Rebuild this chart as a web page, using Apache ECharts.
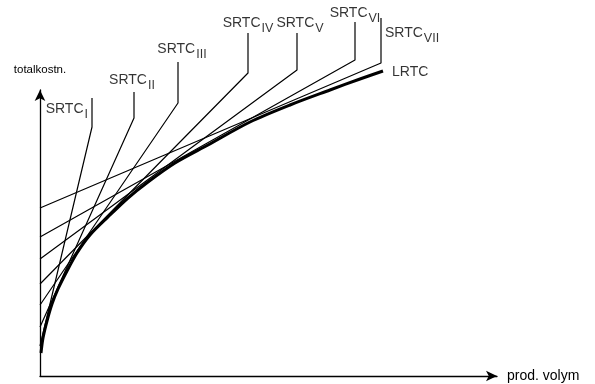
<!DOCTYPE html>
<html><head><meta charset="utf-8">
<script src="https://cdn.jsdelivr.net/npm/echarts@6/dist/echarts.min.js"></script>
<style>html,body{margin:0;padding:0;background:#fff}#c{width:595px;height:384px}</style>
</head><body><div id="c"></div>
<script>
// values (arbitrary units: x = production volume, y = total cost)
const srtcNames = ['I', 'II', 'III', 'IV', 'V', 'VI', 'VII'];
const srtcIntercept = [30, 49, 71, 92, 117, 139, 168];
const srtcKinkX = [52, 94, 138, 208, 257, 315, 341];
const srtcKinkY = [249, 258, 273, 303, 306, 316, 313];
const srtcTopY = [278, 284, 314, 343, 343, 354, 358];
const lrtcX = [1, 3, 7, 12, 18, 27, 37, 50, 68, 88, 108, 135, 168, 210, 250, 290, 320, 343];
const lrtcY = [23, 38, 55, 72, 87, 105, 123, 141, 159, 178, 194, 213, 231, 254, 271, 286, 297, 305];
const xName = 'prod. volym';
const yName = 'totalkostn.';
const lrtcName = 'LRTC';

// label placement styles (not data)
const labelStyle = [
  {align: 'right', verticalAlign: 'top', offset: [-4, 4]},
  {align: 'center', verticalAlign: 'bottom', offset: [-2, -4]},
  {align: 'center', verticalAlign: 'bottom', offset: [4, -5]},
  {align: 'center', verticalAlign: 'bottom', offset: [0, -2]},
  {align: 'center', verticalAlign: 'bottom', offset: [3, -2]},
  {align: 'center', verticalAlign: 'bottom', offset: [0, -1]},
  {align: 'left', verticalAlign: 'top', offset: [4, 8]}
];
const INK = '#000';
const FONT = 'Liberation Sans, Arial, sans-serif';
const rich = {
  m: {fontSize: 14, fontFamily: FONT, color: INK, verticalAlign: 'top', lineHeight: 15},
  s: {fontSize: 12.5, fontFamily: FONT, color: INK, verticalAlign: 'top', lineHeight: 13, padding: [6, 0, 0, 1]}
};

const series = [];
srtcNames.forEach(function (n, i) {
  series.push({
    type: 'line', xAxisIndex: 0, yAxisIndex: 0, showSymbol: false, silent: true,
    data: [[0, srtcIntercept[i]], [srtcKinkX[i], srtcKinkY[i]], [srtcKinkX[i], srtcTopY[i]]],
    lineStyle: {color: INK, width: 1.2}
  });
});
series.push({
  type: 'line', xAxisIndex: 0, yAxisIndex: 0, showSymbol: false, silent: true, smooth: 0.3,
  data: lrtcX.map(function (x, i) { return [x, lrtcY[i]]; }),
  lineStyle: {color: INK, width: 3}
});
series.push({
  type: 'scatter', xAxisIndex: 0, yAxisIndex: 0, symbolSize: 0, silent: true,
  data: srtcNames.map(function (n, i) {
    return {
      value: [srtcKinkX[i], srtcTopY[i]],
      label: {show: true, position: [0, 0], formatter: '{m|SRTC}{s|' + n + '}', rich: rich,
        align: labelStyle[i].align, verticalAlign: labelStyle[i].verticalAlign, offset: labelStyle[i].offset}
    };
  }).concat([{
    value: [lrtcX[lrtcX.length - 1], lrtcY[lrtcY.length - 1]],
    label: {show: true, position: [0, 0], formatter: '{m|' + lrtcName + '}', rich: rich,
      align: 'left', verticalAlign: 'middle', offset: [9, 2]}
  }])
});

const chart = echarts.init(document.getElementById('c'), null, {renderer: 'canvas'});
chart.setOption({
  animation: false,
  backgroundColor: '#fff',
  grid: [
    {left: 40, right: 98, top: 5, bottom: 8},
    {left: 40, right: 98, top: 90, bottom: 8}
  ],
  xAxis: [
    {gridIndex: 0, type: 'value', min: 0, max: 457, show: false},
    {gridIndex: 1, type: 'value', min: 0, max: 457,
      axisLine: {show: true, symbol: ['none', 'arrow'], symbolSize: [8, 11], lineStyle: {color: INK, width: 1.3}},
      axisTick: {show: false}, axisLabel: {show: false}, splitLine: {show: false},
      name: xName, nameLocation: 'end', nameGap: 10,
      nameTextStyle: {fontSize: 14, fontFamily: FONT, color: INK}}
  ],
  yAxis: [
    {gridIndex: 0, type: 'value', min: 0, max: 371, show: false},
    {gridIndex: 1, type: 'value', min: 0, max: 286,
      axisLine: {show: true, symbol: ['none', 'arrow'], symbolSize: [8, 11], lineStyle: {color: INK, width: 1.3}},
      axisTick: {show: false}, axisLabel: {show: false}, splitLine: {show: false},
      name: yName, nameLocation: 'end', nameGap: 14,
      nameTextStyle: {fontSize: 11.5, fontFamily: FONT, color: INK, align: 'center'}}
  ],
  series: series
});
</script>
</body></html>
